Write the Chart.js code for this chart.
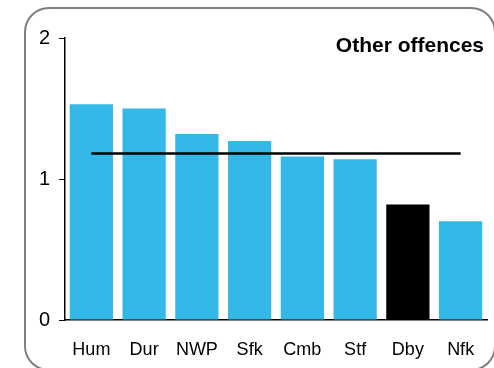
<!DOCTYPE html>
<html>
<head>
<meta charset="utf-8">
<script src="https://cdn.jsdelivr.net/npm/chart.js@4"></script>
<style>
html,body{margin:0;padding:0;background:#fff;}
#wrap{position:relative;width:494px;height:368px;overflow:hidden;}
#frame{position:absolute;left:24px;top:7px;width:472px;height:364px;border:2px solid #7f7f7f;border-radius:25px;box-sizing:border-box;}
canvas{position:absolute;left:0;top:0;}
</style>
</head>
<body>
<div id="wrap">
<div id="frame"></div>
<canvas id="c" width="494" height="368"></canvas>
</div>
<script>
const categories = ["Hum","Dur","NWP","Sfk","Cmb","Stf","Dby","Nfk"];
const values = [1.53, 1.50, 1.32, 1.27, 1.16, 1.14, 0.82, 0.70];
const average = [1.18, 1.18, 1.18, 1.18, 1.18, 1.18, 1.18, 1.18];
const yTicks = [0, 1, 2];
const title = "Other offences";
const highlight = "Dby";

const blue = "#33b8e8";
const FONT = "Liberation Sans, Arial, sans-serif";

const titlePlugin = {
  id: 'inTitle',
  afterDraw(chart) {
    const ctx = chart.ctx, a = chart.chartArea;
    ctx.save();
    ctx.font = "bold 21px " + FONT;
    ctx.fillStyle = "#000";
    ctx.textAlign = "right";
    ctx.textBaseline = "middle";
    ctx.fillText(title, a.right - 3, 46);
    ctx.restore();
  }
};

new Chart(document.getElementById('c'), {
  data: {
    labels: categories,
    datasets: [
      {
        type: 'line',
        data: average,
        borderColor: '#000',
        borderWidth: 2.5,
        pointRadius: 0,
        fill: false,
        order: 0
      },
      {
        type: 'bar',
        data: values,
        backgroundColor: categories.map(c => c === highlight ? '#000' : blue),
        borderWidth: 0,
        barPercentage: 0.82,
        categoryPercentage: 1.0,
        order: 1
      }
    ]
  },
  options: {
    responsive: false,
    animation: false,
    devicePixelRatio: 1,
    layout: { padding: { left: 0, right: 7, top: 38, bottom: 0 } },
    plugins: { legend: { display: false }, tooltip: { enabled: false } },
    scales: {
      x: {
        grid: { display: false },
        border: { display: true, color: '#000', width: 1.5 },
        ticks: { color: '#000', font: { family: FONT, size: 18 }, padding: 11 },
        afterFit(s) { s.height = 48; }
      },
      y: {
        min: 0, max: 2,
        afterBuildTicks(s) { s.ticks = yTicks.map(v => ({ value: v })); },
        grid: { display: true, drawOnChartArea: false, tickLength: 6, color: '#000' },
        border: { display: true, color: '#000', width: 1.5 },
        ticks: { color: '#000', font: { family: FONT, size: 20 }, padding: 9 },
        afterFit(s) { s.width = 65; }
      }
    }
  },
  plugins: [titlePlugin]
});
</script>
</body>
</html>
